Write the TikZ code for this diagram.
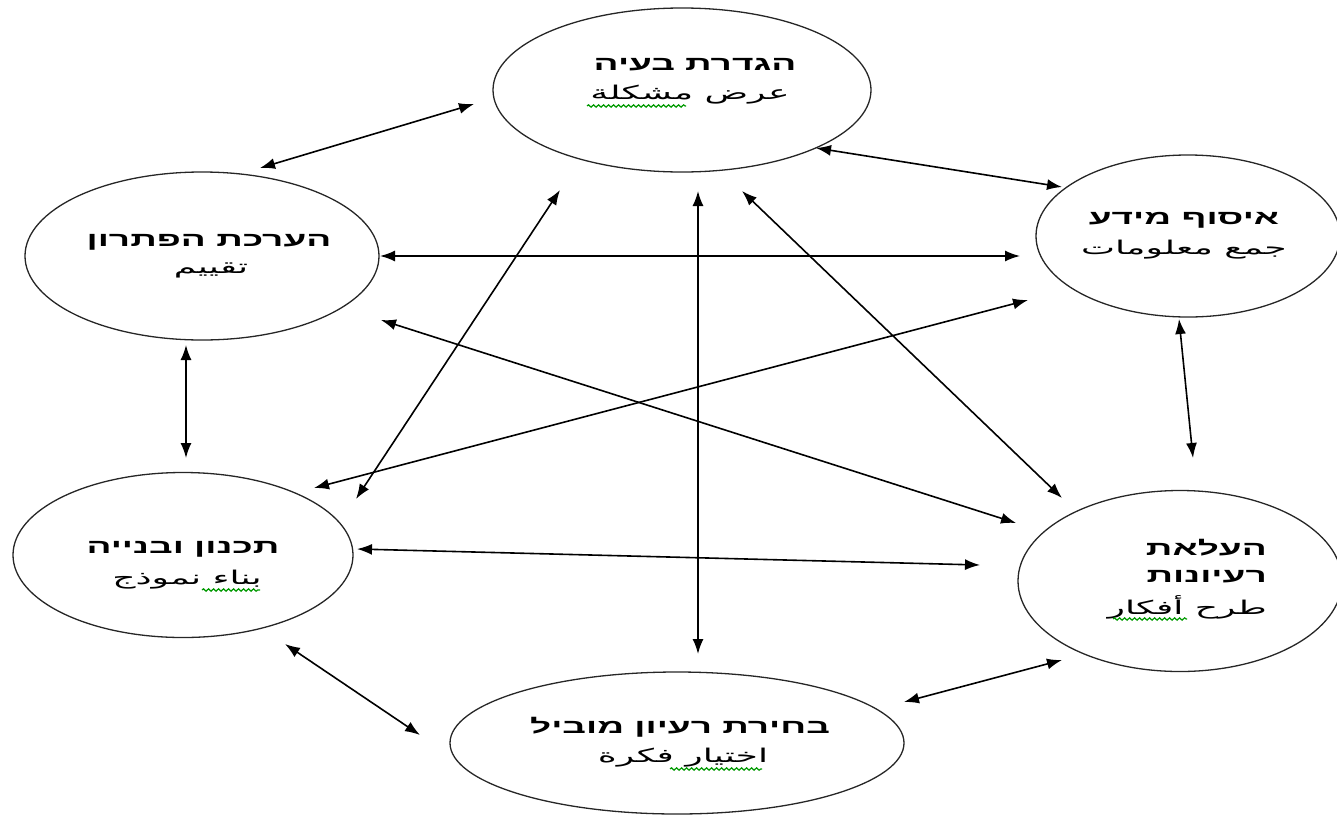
\documentclass[tikz,border=0pt]{standalone}
\usepackage{fontspec}
\usetikzlibrary{shapes.geometric,arrows.meta,decorations.pathmorphing}
\TeXXeTstate=1
\newfontfamily\heb[Script=Hebrew,FakeStretch=1.85]{Liberation Sans}
\newfontfamily\arab[Script=Arabic,FakeStretch=1.9]{DejaVu Sans}
\tikzset{
  bubble/.style={ellipse, draw=black!85, line width=1.3pt, inner sep=0pt},
  hebtxt/.style={inner sep=0pt, font=\heb\bfseries\fontsize{20}{24}\selectfont},
  arabtxt/.style={inner sep=0pt, font=\arab\fontsize{19}{24}\selectfont},
  conn/.style={line width=1.6pt, {Latex[length=15pt,width=11pt]}-{Latex[length=15pt,width=11pt]}},
  spell/.style={draw=green!60!black, line width=1.2pt, decorate, decoration={snake, amplitude=1.2pt, segment length=5pt}}
}
\begin{document}
\begin{tikzpicture}[x=1pt,y=-1pt]
\useasboundingbox (0,0) rectangle (1337,814);
% ellipses
\node[bubble, minimum width=378pt, minimum height=164pt] (top) at (682,90) {};
\node[bubble, minimum width=354pt, minimum height=168pt] (tl) at (202,256) {};
\node[bubble, minimum width=304pt, minimum height=162pt] (tr) at (1188,236) {};
\node[bubble, minimum width=340pt, minimum height=165pt] (bl) at (183,555) {};
\node[bubble, minimum width=324pt, minimum height=181pt] (br) at (1180,581) {};
\node[bubble, minimum width=454pt, minimum height=142pt] (bot) at (677,743) {};
% texts
\node[hebtxt] (toph) at (695,65) {\beginR הגדרת בעיה\endR};
\node[arabtxt] (topa) at (690,95) {\beginR عرض مشكلة\endR};
\node[hebtxt] (tlh) at (209,242) {\beginR הערכת הפתרון\endR};
\node[arabtxt] (tla) at (211,270) {\beginR تقييم\endR};
\node[hebtxt] (trh) at (1184,220) {\beginR איסוף מידע\endR};
\node[arabtxt] (tra) at (1184,250) {\beginR جمع معلومات\endR};
\node[hebtxt] (blh) at (183,549) {\beginR תכנון ובנייה\endR};
\node[arabtxt] (bla) at (187,580) {\beginR بناء نموذج\endR};
\node[hebtxt, anchor=east] (brh1) at (1267,548) {\beginR העלאת\endR};
\node[hebtxt, anchor=east] (brh2) at (1267,577) {\beginR רעיונות\endR};
\node[arabtxt, anchor=east] (bra) at (1267,607) {\beginR طرح أفكار\endR};
\node[hebtxt] (both) at (680,727) {\beginR בחירת רעיון מוביל\endR};
\node[arabtxt] (bota) at (683,758) {\beginR اختيار فكرة\endR};
% spell-check marks
\draw[spell] (587,106) -- (686,106);
\draw[spell] (202,590) -- (260,590);
\draw[spell] (1113,619) -- (1187,619);
\draw[spell] (670,769) -- (762,769);
% connector end points
\coordinate (c1a) at (474,104); \coordinate (c1b) at (260,168);
\coordinate (c2a) at (816,148); \coordinate (c2b) at (1062,187);
\coordinate (c3a) at (380,256); \coordinate (c3b) at (1020,256);
\coordinate (c4a) at (1179,319); \coordinate (c4b) at (1193,458);
\coordinate (c5a) at (186,345); \coordinate (c5b) at (186,458);
\coordinate (c6a) at (381,320); \coordinate (c6b) at (1016,523);
\coordinate (c7a) at (1028,300); \coordinate (c7b) at (314,488);
\coordinate (c8a) at (560,190); \coordinate (c8b) at (356,499);
\coordinate (c9a) at (698,191); \coordinate (c9b) at (698,654);
\coordinate (c10a) at (742,191); \coordinate (c10b) at (1062,498);
\coordinate (c11a) at (357,549); \coordinate (c11b) at (980,565);
\coordinate (c12a) at (285,644); \coordinate (c12b) at (420,735);
\coordinate (c13a) at (904,702); \coordinate (c13b) at (1062,660);
% connectors
\draw[conn] (c1a) -- (c1b);
\draw[conn] (c2a) -- (c2b);
\draw[conn] (c3a) -- (c3b);
\draw[conn] (c4a) -- (c4b);
\draw[conn] (c5a) -- (c5b);
\draw[conn] (c6a) -- (c6b);
\draw[conn] (c7a) -- (c7b);
\draw[conn] (c8a) -- (c8b);
\draw[conn] (c9a) -- (c9b);
\draw[conn] (c10a) -- (c10b);
\draw[conn] (c11a) -- (c11b);
\draw[conn] (c12a) -- (c12b);
\draw[conn] (c13a) -- (c13b);
\end{tikzpicture}
\end{document}
